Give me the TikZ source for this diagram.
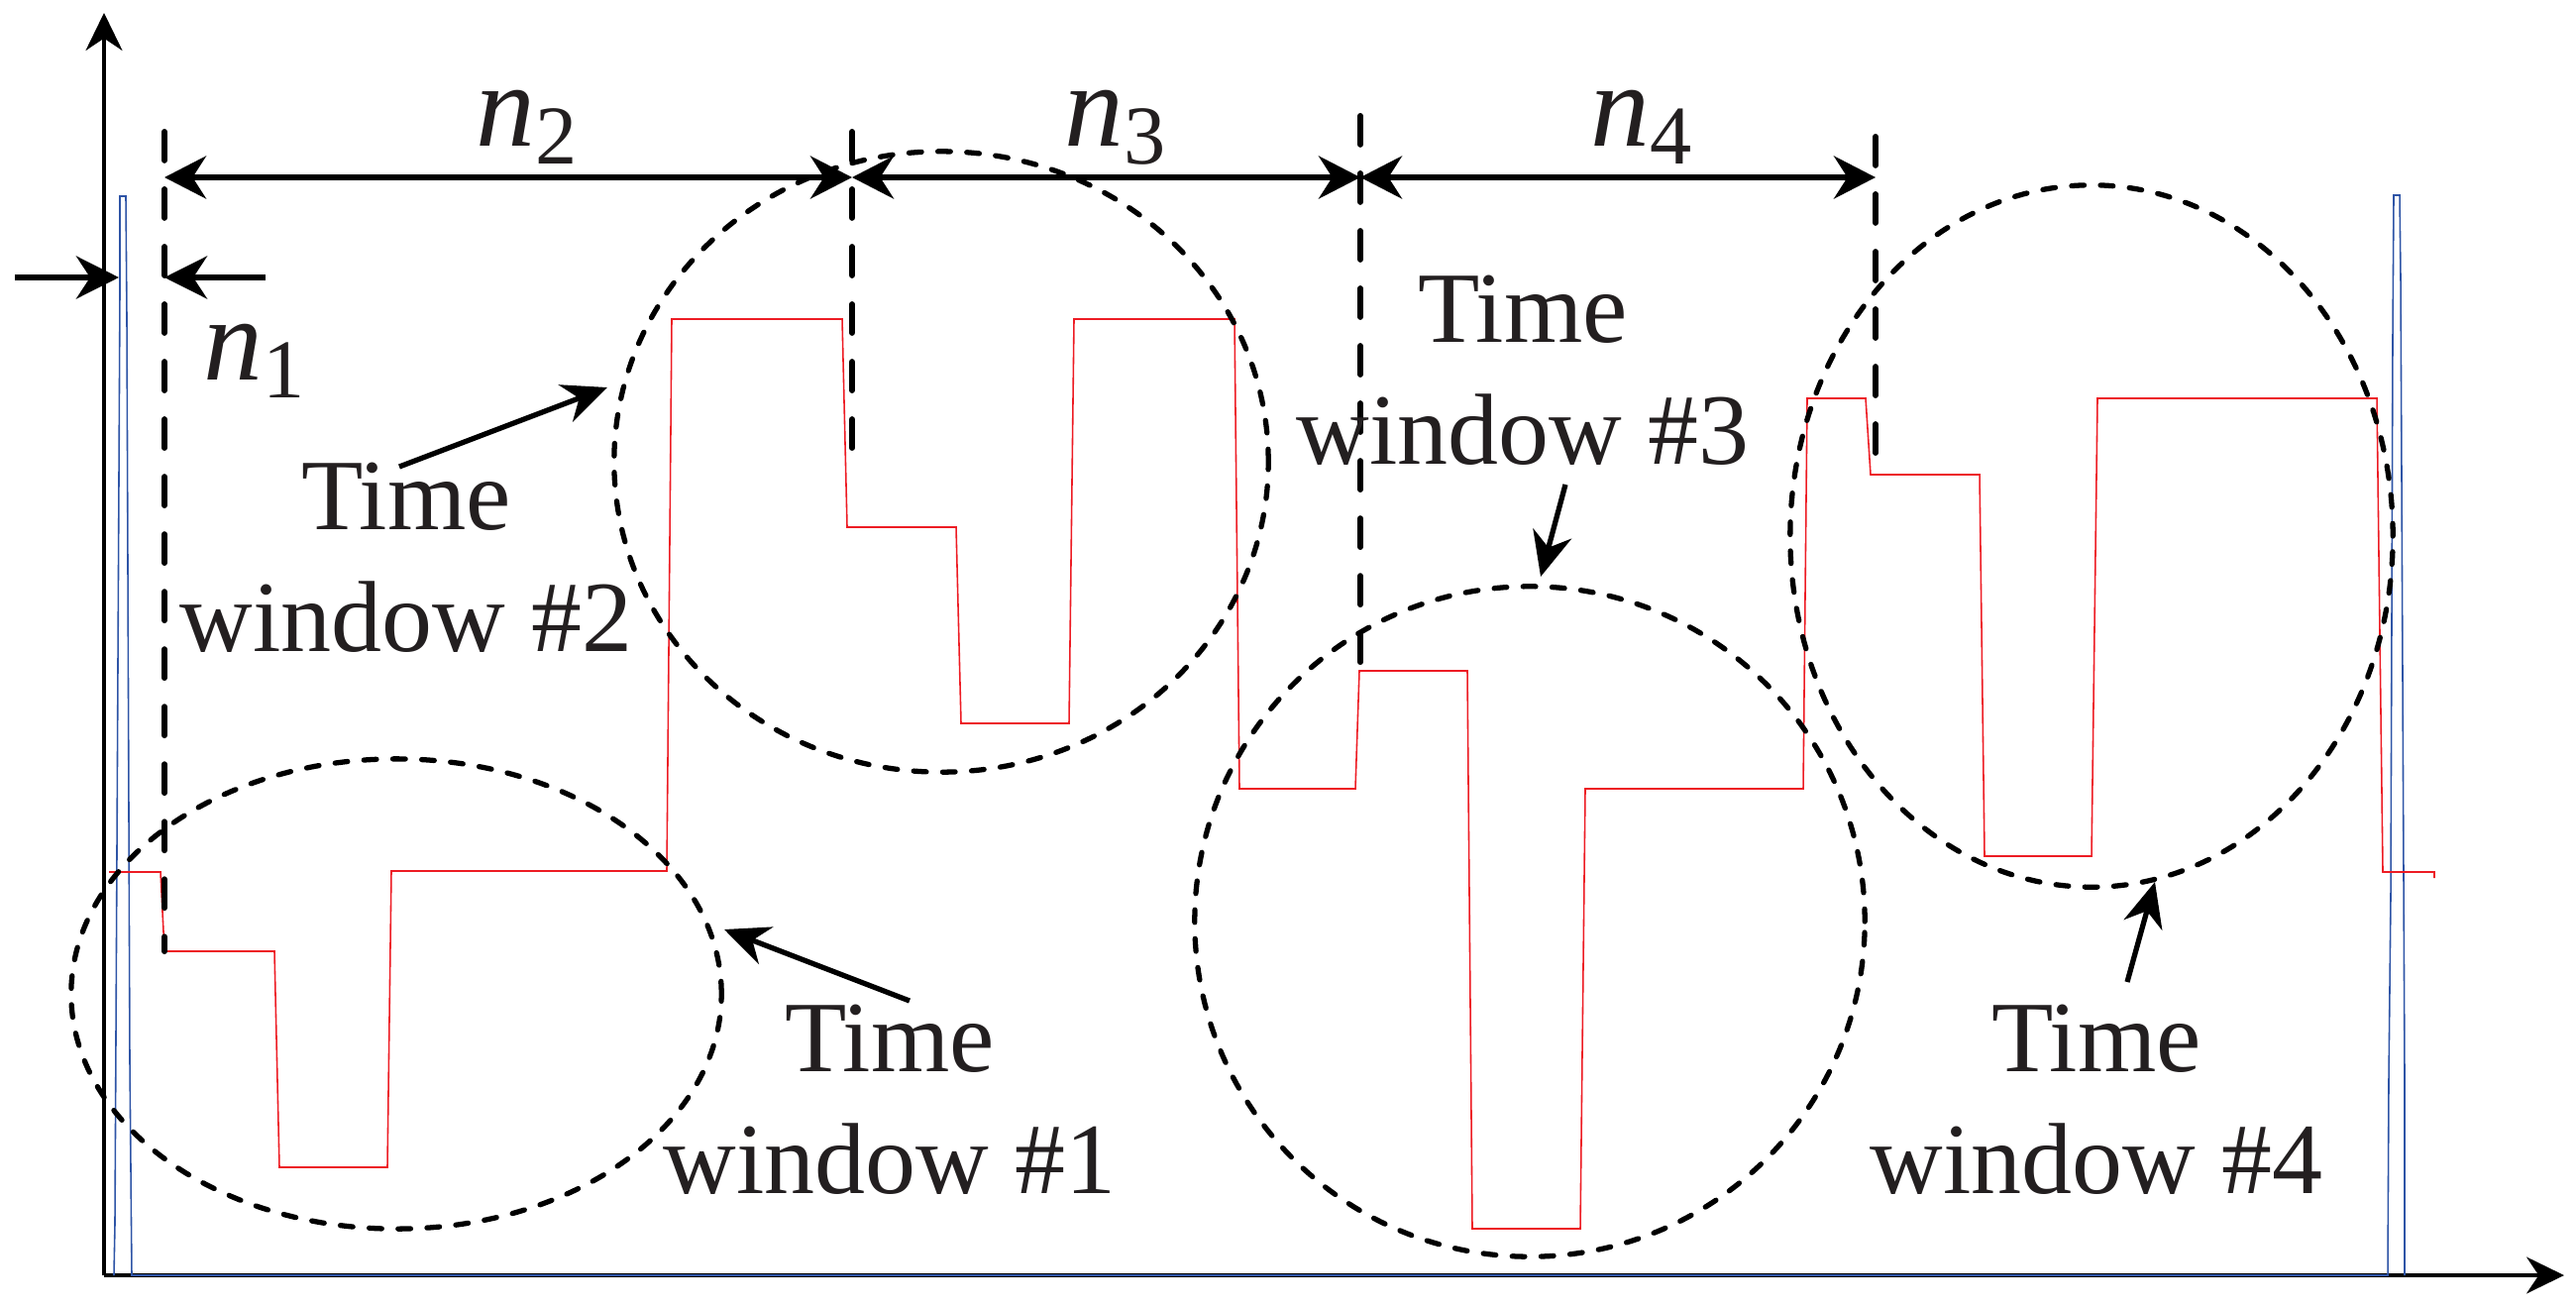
\documentclass[tikz,border=0pt]{standalone}
\usepackage{fontspec}
\setmainfont{Liberation Serif}
\usetikzlibrary{arrows.meta}
\definecolor{sig}{RGB}{237,28,36}
\definecolor{blu}{RGB}{46,84,166}
\definecolor{txt}{RGB}{35,31,32}
\newcommand{\nlab}[1]{{\fontsize{34}{40}\selectfont\itshape n}\raisebox{-5.2pt}{\fontsize{24}{28}\selectfont #1}}
\begin{document}
\begin{tikzpicture}[x=0.01cm,y=-0.01cm,
  axisline/.style={line width=0.9pt,-{Stealth[length=0.38cm,width=0.37cm]}},
  dimarrow/.style={line width=1.6pt,{Stealth[length=0.42cm,width=0.43cm]}-{Stealth[length=0.42cm,width=0.43cm]}},
  onearrow/.style={line width=1.6pt,-{Stealth[length=0.43cm,width=0.43cm]}},
  pointer/.style={line width=1.5pt,-{Stealth[length=0.45cm,width=0.4cm]}},
  vdash/.style={line width=1.7pt,line cap=round,dash pattern=on 8.2pt off 8.3pt},
  win/.style={line width=1.5pt,line cap=round,dash pattern=on 3.6pt off 4.7pt},
  lab/.style={text=txt,inner sep=0pt,font=\fontsize{29}{35}\selectfont},
  nlabel/.style={text=txt,inner sep=0pt,anchor=base west},
  redsig/.style={draw=sig,line width=0.45pt},
  bluesig/.style={draw=blu,line width=0.45pt}]
\useasboundingbox (0,0) rectangle (2600,1318);

% axes
\coordinate (O) at (105,1287);
\coordinate (ytop) at (105,13);
\coordinate (xend) at (2588,1287);
\draw[axisline] (O) -- (ytop);
\draw[axisline] (O) -- (xend);

% blue signal
\draw[bluesig] (115,1287) -- (116,1235) -- (118,860) -- (121,295) -- (121,198) -- (127,198) -- (128,320) -- (131,1070) -- (133,1287)
  -- (2410,1287) -- (2411,1089) -- (2413,903) -- (2415,338) -- (2416,197) -- (2422,197) -- (2423,282) -- (2424,485) -- (2426,888) -- (2427,1089) -- (2427,1287);

% red signal
\draw[redsig] (110,880) -- (162,880) -- (166,960) -- (277,960) -- (282,1178) -- (391,1178) -- (395,879)
  -- (673,879) -- (678,322) -- (850,322) -- (855,532) -- (965,532) -- (970,730) -- (1079,730) -- (1084,322)
  -- (1246,322) -- (1251,796) -- (1368,796) -- (1372,677) -- (1481,677) -- (1486,1240) -- (1595,1240)
  -- (1600,796) -- (1820,796) -- (1824,402) -- (1883,402) -- (1888,479) -- (1998,479) -- (2003,864)
  -- (2111,864) -- (2117,402) -- (2399,402) -- (2405,880) -- (2457,880) -- (2457,886);

% vertical dashed markers
\coordinate (d1t) at (166,133); \coordinate (d1b) at (166,960);
\coordinate (d2t) at (860,133); \coordinate (d2b) at (860,462);
\coordinate (d3t) at (1373,117); \coordinate (d3b) at (1373,676);
\coordinate (d4t) at (1893,138); \coordinate (d4b) at (1893,466);
\draw[vdash] (d1t) -- (d1b);
\draw[vdash] (d2t) -- (d2b);
\draw[vdash] (d3t) -- (d3b);
\draw[vdash] (d4t) -- (d4b);

% dimension arrows
\coordinate (a1) at (166,179);
\coordinate (a2) at (860,179);
\coordinate (a3) at (1373,179);
\coordinate (a4) at (1893,179);
\draw[dimarrow] (a1) -- (a2);
\draw[dimarrow] (a2) -- (a3);
\draw[dimarrow] (a3) -- (a4);

% n1 arrows
\coordinate (n1ls) at (15,280);
\coordinate (n1lt) at (120,280);
\coordinate (n1rs) at (268,280);
\coordinate (n1rt) at (166,280);
\draw[onearrow] (n1ls) -- (n1lt);
\draw[onearrow] (n1rs) -- (n1rt);

% n labels
\node[nlabel] (ln1) at (205,383) {\nlab{1}};
\node[nlabel] (ln2) at (480,147) {\nlab{2}};
\node[nlabel] (ln3) at (1074,147) {\nlab{3}};
\node[nlabel] (ln4) at (1605,147) {\nlab{4}};

% time windows
\draw[win] (400,1003) ellipse [x radius=3.28cm, y radius=2.37cm];
\draw[win] (950,466) ellipse [x radius=3.30cm, y radius=3.13cm];
\draw[win] (1544,930) ellipse [x radius=3.38cm, y radius=3.38cm];
\draw[win] (2111,541) ellipse [x radius=3.04cm, y radius=3.54cm];

% labels
\node[lab,anchor=base] (t1a) at (898,1081) {Time};
\node[lab,anchor=base] (t1b) at (898,1204) {window \#1};
\node[lab,anchor=base] (t2a) at (410,534) {Time};
\node[lab,anchor=base] (t2b) at (410,657) {window \#2};
\node[lab,anchor=base] (t3a) at (1537,345) {Time};
\node[lab,anchor=base] (t3b) at (1537,468) {window \#3};
\node[lab,anchor=base] (t4a) at (2116,1081) {Time};
\node[lab,anchor=base] (t4b) at (2116,1204) {window \#4};

% pointers
\coordinate (p1s) at (918,1010); \coordinate (p1t) at (731,938);
\coordinate (p2s) at (403,471);  \coordinate (p2t) at (613,391);
\coordinate (p3s) at (1580,489); \coordinate (p3t) at (1555,582);
\coordinate (p4s) at (2147,991); \coordinate (p4t) at (2175,890);
\draw[pointer] (p1s) -- (p1t);
\draw[pointer] (p2s) -- (p2t);
\draw[pointer] (p3s) -- (p3t);
\draw[pointer] (p4s) -- (p4t);
\end{tikzpicture}
\end{document}
